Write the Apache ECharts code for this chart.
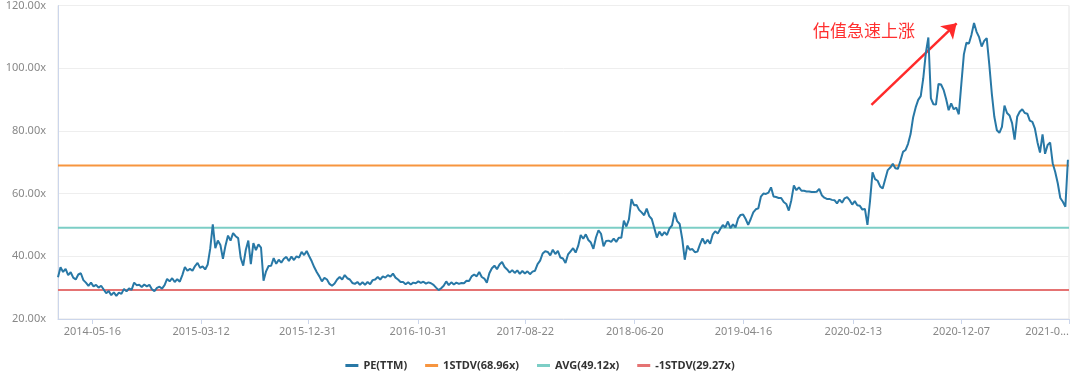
<!DOCTYPE html>
<html><head><meta charset="utf-8">
<script src="https://cdn.jsdelivr.net/npm/echarts@6/dist/echarts.min.js"></script>
<style>html,body{margin:0;padding:0;background:#fff}#c{width:1080px;height:384px}</style>
</head><body><div id="c"></div>
<script>
// ---- data ----
const firstDate = '2014-02-10';     // first weekly sample
const lastAxisDate = '2021-09-30';  // right end of the axis
const sampleStepDays = 7;           // one PE reading per week
const peTTM = [
33.3,36.5,35.0,36.0,34.0,34.9,33.2,32.6,34.2,34.6,
32.4,31.6,30.6,31.6,30.4,30.9,30.0,30.6,29.4,28.2,
28.9,27.6,28.5,27.4,28.4,28.0,29.6,28.8,29.8,29.3,
31.6,30.8,30.9,30.2,31.0,30.4,30.9,29.5,28.9,29.9,
30.3,29.7,30.8,32.8,32.0,33.0,31.8,32.7,31.9,34.0,
36.6,35.4,36.0,35.4,36.9,37.9,36.3,36.8,35.8,37.4,
42.5,50.2,42.6,45.0,43.6,39.2,43.4,46.6,45.0,47.4,
46.4,45.8,39.5,37.0,42.0,45.0,37.5,44.2,42.0,43.8,
42.8,32.2,35.2,36.9,37.0,39.4,37.6,38.9,38.0,39.2,
39.8,38.5,39.9,38.8,40.0,39.6,41.4,40.4,41.7,40.0,
38.4,36.5,34.9,33.6,32.0,33.1,32.6,31.2,30.6,31.3,
32.6,33.4,32.6,34.0,33.0,32.6,31.5,31.2,31.8,30.9,
31.7,30.9,31.8,31.1,32.4,32.6,33.4,32.6,33.6,33.2,
34.0,33.5,34.5,33.2,32.6,31.8,31.8,31.1,31.7,31.0,
31.6,31.4,32.0,31.5,31.9,31.3,31.7,31.4,30.9,30.0,
29.2,29.8,30.6,32.0,30.8,31.7,31.0,31.6,31.2,31.5,
31.4,32.2,32.1,33.6,34.2,33.6,35.0,33.4,32.9,31.6,
34.6,36.2,37.0,35.9,37.4,38.2,36.6,35.8,34.8,35.6,
34.7,35.5,34.4,35.3,34.5,35.2,34.3,35.1,35.4,37.5,
38.6,40.9,41.6,41.4,40.3,42.1,40.7,41.7,39.6,39.3,
37.9,40.6,41.6,42.6,41.2,43.3,46.8,45.6,47.0,45.2,
44.4,42.4,46.0,48.3,47.2,43.2,44.9,45.0,44.6,45.6,
44.6,45.9,45.9,51.4,49.5,51.8,58.2,56.3,56.4,54.8,
54.0,53.1,55.2,52.8,51.9,49.0,46.0,47.9,46.6,47.7,
46.8,48.9,49.9,54.0,51.2,50.3,45.6,38.9,43.4,42.1,
42.3,41.3,41.5,43.8,45.7,44.0,45.3,44.0,46.9,48.0,
47.3,48.7,50.0,49.2,51.1,49.0,50.2,49.2,52.0,53.2,
53.3,51.9,50.0,51.9,54.0,55.0,55.3,59.0,60.0,59.9,
60.3,62.0,59.1,58.9,58.6,58.6,57.3,56.7,54.6,57.9,
62.6,61.1,62.0,60.9,60.9,60.7,60.7,60.5,60.5,60.6,
61.5,59.5,58.7,58.3,58.3,58.0,57.9,56.9,58.1,57.1,
58.5,58.9,57.9,56.5,57.6,56.3,56.1,54.9,55.1,50.0,
57.5,66.8,64.6,64.1,62.3,61.6,64.6,67.5,68.3,69.5,
68.1,67.9,70.5,73.3,73.9,75.9,79.0,84.3,87.5,89.9,
91.1,96.8,104.8,109.8,90.4,88.5,88.4,95.0,94.8,93.1,
90.2,86.6,88.8,86.9,87.4,85.3,95.0,104.4,108.1,107.9,
110.7,114.4,111.6,109.9,106.9,108.7,109.6,101.3,92.0,84.5,
80.2,79.4,81.3,88.1,85.7,84.9,82.5,77.2,84.5,86.1,
86.9,85.7,85.5,83.3,82.9,80.7,76.4,73.1,78.9,72.7,
75.5,76.3,69.7,66.9,63.3,58.6,57.4,55.8,70.8
];
const stdvPlus = 68.96;
const avgPE = 49.12;
const stdvMinus = 29.27;
const seriesNames = ['PE(TTM)', '1STDV(68.96x)', 'AVG(49.12x)', '-1STDV(29.27x)'];
const xTickDates = ['2014-05-16','2015-03-12','2015-12-31','2016-10-31','2017-08-22','2018-06-20','2019-04-16','2020-02-13','2020-12-07','2021-09-30'];
const xTickLabels = ['2014-05-16','2015-03-12','2015-12-31','2016-10-31','2017-08-22','2018-06-20','2019-04-16','2020-02-13','2020-12-07','2021-0...'];
const yMin = 20, yMax = 120, yStep = 20;
const noteText = '估值急速上涨';
const arrowFrom = ['2020-04-03', 88.3];
const arrowTo = ['2020-11-24', 114.3];

// ---- helpers ----
function t(s) { const p = s.split('-').map(Number); return Date.UTC(p[0], p[1] - 1, p[2]); }
const DAY = 86400000;
const t0 = t(firstDate);
const tEnd = t(lastAxisDate);
const peData = peTTM.map((v, i) => [t0 + i * sampleStepDays * DAY, v]);
const tickTimes = xTickDates.map(t);
const flat = v => [[t0, v], [tEnd, v]];

const colors = ['#2878a6', '#f7953f', '#7ccec6', '#e57373'];

const chart = echarts.init(document.getElementById('c'), null, {renderer: 'canvas'});
chart.setOption({
  animation: false,
  color: colors,
  grid: {left: 58, right: 11, top: 4, bottom: 65, show: true, borderColor: '#e4e4e4', borderWidth: 1, backgroundColor: 'transparent'},
  legend: {
    data: seriesNames,
    left: 'center', top: 355,
    icon: 'rect', itemWidth: 13, itemHeight: 3, itemGap: 18,
    textStyle: {color: '#333', fontSize: 11, fontWeight: 'bold', fontFamily: 'Noto Sans'}
  },
  xAxis: {
    type: 'value', min: t0, max: tEnd,
    axisLine: {lineStyle: {color: '#ccd6eb', width: 1}},
    axisTick: {show: true, length: 5, lineStyle: {color: '#ccd6eb'}, customValues: tickTimes},
    splitLine: {show: false},
    axisLabel: {
      customValues: tickTimes,
      color: '#888', fontSize: 11, fontFamily: 'Noto Sans', margin: 7,
      alignMaxLabel: 'right',
      formatter: function (v) {
        for (let i = 0; i < tickTimes.length; i++) if (Math.abs(tickTimes[i] - v) < 1000) return xTickLabels[i];
        return '';
      }
    }
  },
  yAxis: {
    type: 'value', min: yMin, max: yMax, interval: yStep,
    axisLine: {show: true, lineStyle: {color: '#ccd6eb', width: 1}},
    axisTick: {show: false},
    splitLine: {lineStyle: {color: '#eeeeee', width: 1}},
    axisLabel: {color: '#888', fontSize: 11, fontFamily: 'Noto Sans', margin: 12,
      formatter: v => v.toFixed(2) + 'x'}
  },
  series: [
    {name: seriesNames[0], type: 'line', data: peData, showSymbol: false, symbol: 'none',
     lineStyle: {width: 2, color: colors[0]}, z: 5,
     markLine: {
       silent: true, symbol: ['none', 'arrow'], symbolSize: 14,
       label: {show: false},
       lineStyle: {color: '#ff2a2a', width: 2.5, type: 'solid'},
       data: [[{coord: [t(arrowFrom[0]), arrowFrom[1]]}, {coord: [t(arrowTo[0]), arrowTo[1]]}]]
     }},
    {name: seriesNames[1], type: 'line', data: flat(stdvPlus), symbol: 'none', lineStyle: {width: 2, color: colors[1]}, z: 3},
    {name: seriesNames[2], type: 'line', data: flat(avgPE), symbol: 'none', lineStyle: {width: 2, color: colors[2]}, z: 3},
    {name: seriesNames[3], type: 'line', data: flat(stdvMinus), symbol: 'none', lineStyle: {width: 2, color: colors[3]}, z: 3}
  ],
  graphic: [{
    type: 'text', left: 813, top: 22, z: 10,
    style: {text: noteText, fill: '#ff3030', fontSize: 17, fontFamily: 'Noto Sans CJK SC'}
  }]
});
</script></body></html>
